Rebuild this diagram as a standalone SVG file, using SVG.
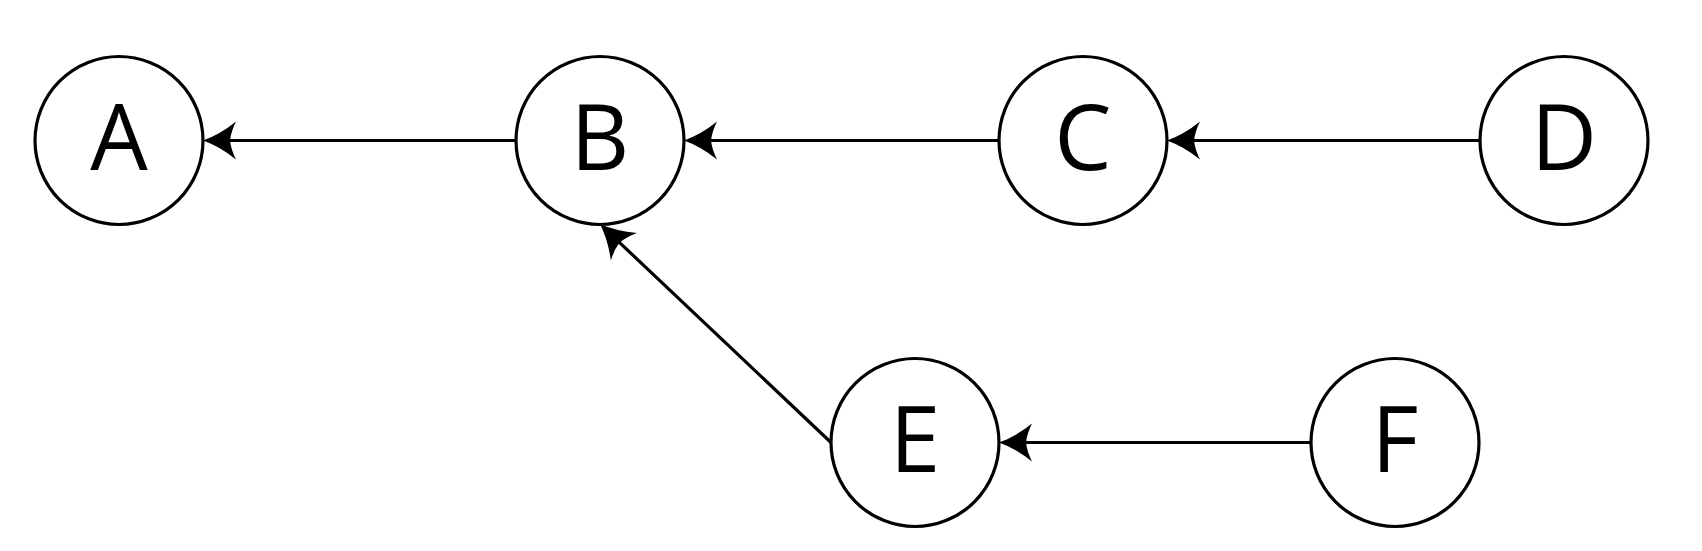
<svg xmlns="http://www.w3.org/2000/svg" width="1702" height="551" viewBox="0 0 1702 551">
<style>
.node{fill:#fff;stroke:#000;stroke-width:3.2}
.lbl{font-family:"Open Sans","DejaVu Sans",sans-serif;font-size:91px;text-anchor:middle;fill:#000}
.edge{stroke:#000;stroke-width:3.2;fill:none;marker-end:url(#arr)}
</style>
<defs>
<marker id="arr" viewBox="-40 -20 40 40" markerWidth="40" markerHeight="40" refX="-10" refY="0" orient="auto" markerUnits="userSpaceOnUse" overflow="visible">
<path d="M0,0 Q-17,-6 -33,-19 Q-28,-9 -27,0 Q-28,9 -33,19 Q-17,6 0,0 Z" fill="#000"/>
</marker>
</defs>
<rect width="1702" height="551" fill="#fff"/>
<g id="edges">
<line class="edge" x1="517" y1="140.5" x2="213" y2="140.5"/>
<line class="edge" x1="999" y1="140.5" x2="694" y2="140.5"/>
<line class="edge" x1="1480" y1="140.5" x2="1177" y2="140.5"/>
<line class="edge" x1="1311" y1="442.5" x2="1009" y2="442.5"/>
<line class="edge" x1="831" y1="442.5" x2="607.2" y2="230.9"/>
</g>
<g id="A"><circle class="node" cx="119" cy="140.5" r="84"/><text class="lbl" x="119" y="170">A</text></g>
<g id="B"><circle class="node" cx="600" cy="140.5" r="84"/><text class="lbl" x="600" y="170">B</text></g>
<g id="C"><circle class="node" cx="1083" cy="140.5" r="84"/><text class="lbl" x="1083" y="170">C</text></g>
<g id="D"><circle class="node" cx="1564" cy="140.5" r="84"/><text class="lbl" x="1564" y="170">D</text></g>
<g id="E"><circle class="node" cx="915" cy="442.5" r="84"/><text class="lbl" x="915" y="472">E</text></g>
<g id="F"><circle class="node" cx="1395" cy="442.5" r="84"/><text class="lbl" x="1395" y="472">F</text></g>
</svg>
